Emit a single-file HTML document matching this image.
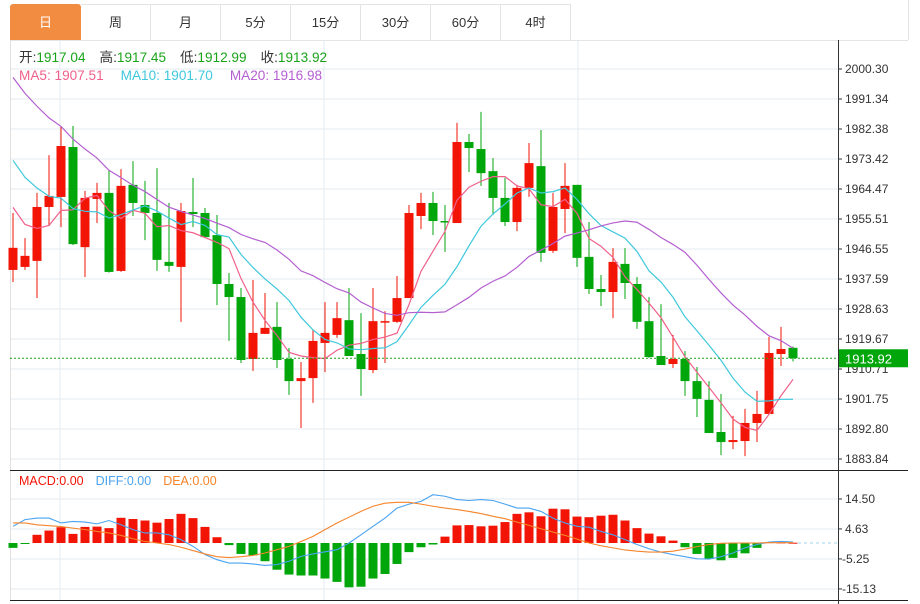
<!DOCTYPE html>
<html><head><meta charset="utf-8">
<style>
html,body{margin:0;padding:0;background:#fff;width:920px;height:604px;overflow:hidden;font-family:"Liberation Sans","Noto Sans CJK SC",sans-serif;}
#tabs{position:absolute;left:10px;top:4px;height:36px;display:flex;}
.tab{width:69px;height:35px;border:1px solid #e3e3e3;border-left:none;line-height:35px;text-align:center;font-size:13px;color:#333;box-sizing:content-box;}
.tab.first{border-left:1px solid #e3e3e3;}
.tab.on{background:#f28c40;color:#fff;border-color:#f28c40;border-radius:3px 3px 0 0;}
svg{position:absolute;left:0;top:0;}
</style></head><body>
<div id="tabs">
<div class="tab first on">日</div>
<div class="tab">周</div>
<div class="tab">月</div>
<div class="tab">5分</div>
<div class="tab">15分</div>
<div class="tab">30分</div>
<div class="tab">60分</div>
<div class="tab">4时</div>
</div>
<svg id="chart" width="920" height="604"></svg>
<script>
const opens=[1940.3,1941.2,1943.0,1959.1,1962.1,1977.0,1947.1,1961.5,1963.3,1940.0,1965.7,1959.7,1957.3,1942.7,1941.2,1957.6,1957.3,1950.7,1936.1,1932.2,1913.7,1921.2,1923.3,1913.7,1907.1,1908.0,1918.5,1920.9,1925.3,1915.2,1910.4,1924.8,1924.8,1931.9,1956.4,1960.3,1954.9,1954.3,1978.5,1976.4,1969.8,1961.8,1954.6,1964.8,1971.3,1946.0,1958.5,1965.7,1944.2,1934.6,1933.7,1942.1,1936.1,1925.0,1914.6,1912.2,1913.7,1907.1,1901.5,1891.9,1888.9,1889.2,1894.6,1897.3,1915.2,1917.04];
const highs=[1957.3,1949.8,1963.3,1974.6,1983.0,1983.3,1963.9,1966.3,1970.1,1970.4,1972.8,1966.9,1970.7,1960.3,1960.3,1967.8,1958.8,1956.7,1939.4,1934.9,1937.3,1933.4,1930.7,1917.0,1912.8,1922.4,1930.7,1930.7,1934.9,1927.4,1934.9,1928.0,1938.5,1959.7,1963.3,1963.6,1959.7,1984.2,1980.9,1987.5,1973.7,1967.8,1965.7,1978.2,1982.1,1963.3,1972.2,1965.7,1954.6,1938.8,1946.8,1946.8,1938.2,1932.2,1930.1,1920.9,1916.1,1911.3,1907.1,1903.3,1896.7,1898.8,1904.2,1920.3,1923.3,1917.45];
const lows=[1936.7,1940.3,1931.9,1953.7,1953.1,1947.7,1938.2,1954.3,1939.5,1939.7,1956.4,1949.2,1940.0,1939.7,1924.8,1953.1,1949.8,1929.8,1919.1,1912.5,1910.1,1921.2,1911.0,1903.0,1893.1,1900.6,1909.8,1920.0,1914.6,1902.7,1909.5,1912.5,1924.5,1931.9,1952.5,1950.7,1945.7,1954.3,1969.5,1965.4,1956.7,1953.4,1951.9,1962.1,1942.7,1945.4,1951.3,1941.2,1933.1,1929.5,1925.9,1931.6,1922.7,1914.0,1911.9,1911.0,1902.7,1896.4,1891.6,1885.0,1886.8,1884.7,1888.9,1897.3,1911.6,1912.99];
const closes=[1946.9,1944.5,1959.1,1962.4,1977.3,1948.0,1961.8,1963.3,1939.7,1965.4,1960.3,1957.3,1943.3,1941.5,1957.9,1957.0,1950.1,1936.1,1932.2,1913.4,1921.5,1923.0,1913.4,1907.1,1908.0,1919.1,1921.5,1925.9,1914.6,1910.7,1925.0,1925.0,1931.9,1957.3,1960.3,1954.9,1954.6,1978.5,1976.7,1969.2,1961.8,1954.6,1964.8,1972.2,1945.4,1959.1,1965.4,1943.9,1934.6,1933.7,1942.7,1936.4,1924.8,1914.3,1911.9,1913.7,1907.1,1901.8,1891.6,1888.9,1889.5,1894.6,1897.3,1915.5,1916.7,1913.92];
const priorCloses=[2040,2036,2032,2028,2024,2021,2017,2013,2009,2006,1995,1991,1987,1983,1979,1970,1965,1958,1955];
const priceTicks=[2000.30,1991.34,1982.38,1973.42,1964.47,1955.51,1946.55,1937.59,1928.63,1919.67,1910.71,1901.75,1892.80,1883.84];
const macdHist=[-1.6,-0.2,2.7,4.1,5.2,3.0,5.3,5.4,4.9,8.3,7.9,7.4,6.7,7.9,9.6,8.2,5.3,1.9,-0.7,-3.6,-4.1,-6.0,-8.8,-10.4,-10.7,-10.7,-11.7,-12.8,-14.6,-14.4,-11.7,-10.2,-6.9,-3.0,-1.4,-0.5,2.1,5.8,5.9,5.5,5.7,6.9,9.6,10.1,8.8,11.3,11.1,8.7,8.5,9.0,9.3,7.4,4.9,3.1,2.2,0.8,-1.4,-3.6,-5.2,-5.7,-4.9,-3.4,-1.6,0.3,0.2,0.1];
const diffVals=[5.5,7.7,8.2,8.2,6.6,7.1,6.9,6.3,7.4,6.0,4.4,3.3,3.3,2.7,1.1,-1.1,-3.8,-5.5,-6.6,-6.6,-6.9,-7.4,-7.1,-6.0,-4.4,-3.6,-2.9,-2.2,0,2.7,5.5,8.2,11.5,12.8,13.7,15.9,15.4,14.3,14.0,14.3,14.0,12.8,11.5,11.5,10.4,8.2,6.6,5.5,5.2,3.8,2.7,1.1,-0.5,-1.9,-3.0,-3.8,-4.5,-5.2,-5.3,-4.5,-3.3,-1.6,-0.5,0.3,0.5,0.3];
const deaVals=[6.6,6.6,6.0,5.7,5.4,4.9,4.4,3.8,3.3,2.5,1.4,0.5,0,-0.5,-1.4,-2.5,-3.6,-4.5,-4.8,-4.5,-4.1,-3.3,-2.2,-1.1,0.5,2.2,4.4,6.6,8.5,10.4,12.1,13.1,13.4,13.4,12.8,12.1,11.5,11.0,10.4,9.7,8.8,8.0,6.9,5.8,4.7,3.6,2.5,1.3,0,-0.9,-1.6,-2.3,-2.7,-3.0,-3.0,-2.7,-2.0,-1.2,-0.5,-0.1,0,0,0,0.1,0.1,0.1];
const macdTicks=[14.50,4.63,-5.25,-15.13];

const NS='http://www.w3.org/2000/svg';
const svg=document.getElementById('chart');
function mk(tag,attrs,parent){const e=document.createElementNS(NS,tag);for(const k in attrs)e.setAttribute(k,attrs[k]);(parent||svg).appendChild(e);return e;}
const L=10,R=838;
const xOf=i=>13+i*12;
const yP=v=>69+(2000.30-v)*390/(2000.30-1883.84);
const yM=v=>543-v*30/9.88;

const grid=mk('g',{});


priceTicks.forEach(t=>{mk('line',{x1:L,x2:R,y1:yP(t),y2:yP(t),stroke:'#e4ebf1','stroke-width':1},grid);});
macdTicks.forEach(t=>{mk('line',{x1:L,x2:R,y1:yM(t),y2:yM(t),stroke:'#e4ebf1','stroke-width':1},grid);});
[60,324,578].forEach(x=>mk('line',{x1:x,x2:x,y1:40,y2:600,stroke:'#e4ebf1'},grid));
mk('line',{x1:L,x2:908,y1:40.5,y2:40.5,stroke:'#e4e4e4'},grid);
mk('line',{x1:L+0.5,x2:L+0.5,y1:40,y2:600,stroke:'#e0e0e0'},grid);
mk('line',{x1:L,x2:908,y1:470.5,y2:470.5,stroke:'#222'},grid);
mk('line',{x1:L,x2:908,y1:600.5,y2:600.5,stroke:'#222'},grid);
mk('line',{x1:R+0.5,x2:R+0.5,y1:40,y2:604,stroke:'#333'},grid);
mk('line',{x1:908.5,x2:908.5,y1:0,y2:40,stroke:'#e4e4e4'},grid);

const ax=mk('g',{'font-size':12,fill:'#333','font-family':'Liberation Sans, sans-serif'});


priceTicks.forEach(t=>{const y=yP(t);mk('line',{x1:R,x2:R+4,y1:y,y2:y,stroke:'#333'},ax);const tx=mk('text',{x:845,y:y+4},ax);tx.textContent=t.toFixed(2);});
const ax2=mk('g',{'font-size':12,fill:'#333'});


macdTicks.forEach(t=>{const y=yM(t);mk('line',{x1:R,x2:R+4,y1:y,y2:y,stroke:'#333'},ax2);const tx=mk('text',{x:t<0?842:845,y:y+4},ax2);tx.textContent=(t<0?'-':'')+Math.abs(t).toFixed(2);});

const cg=mk('g',{});


opens.forEach((o,i)=>{
  const c=closes[i],up=c>=o,col=up?'#f21405':'#00a60a',x=xOf(i);
  const g=mk('g',{},cg);
  
  
  mk('line',{x1:x,x2:x,y1:yP(highs[i]),y2:yP(lows[i]),stroke:col,'stroke-width':1},g);
  const t=yP(Math.max(o,c)),b=yP(Math.min(o,c));
  mk('rect',{x:x-4.5,y:t,width:9,height:Math.max(1.5,b-t),fill:col},g);
});

function ma(n){const all=priorCloses.concat(closes);const off=priorCloses.length;return closes.map((_,i)=>{let s=0;for(let k=0;k<n;k++)s+=all[off+i-k];return s/n;});}
[[5,'#f0608a','ma5-line'],[10,'#3fc8dc','ma10-line'],[20,'#b45fd0','ma20-line']].forEach(([n,col,name])=>{
  const v=ma(n);
  const p=mk('polyline',{points:v.map((m,i)=>xOf(i)+','+yP(m)).join(' '),fill:'none',stroke:col,'stroke-width':1.2});
  
  
});

const lc=closes[closes.length-1];
const lp=mk('line',{x1:L,x2:R,y1:yP(lc),y2:yP(lc),stroke:'#1aa31a','stroke-dasharray':'2,2'});


const lb=mk('g',{});


mk('rect',{x:839,y:yP(lc)-9,width:69,height:18,fill:'#00a60a'},lb);
const lt=mk('text',{x:845,y:yP(lc)+5,fill:'#fff','font-size':13},lb);lt.textContent=lc.toFixed(2);

const mg=mk('g',{});


macdHist.forEach((v,i)=>{
  const y0=yM(0),y1=yM(v);
  const r=mk('rect',{x:xOf(i)-4.5,y:Math.min(y0,y1),width:9,height:Math.max(1,Math.abs(y1-y0)),fill:v>=0?'#f21405':'#00a60a'},mg);
  
  
});
const zl=mk('line',{x1:xOf(macdHist.length-1)+5,x2:R,y1:yM(0),y2:yM(0),stroke:'#9fd3ef','stroke-dasharray':'3,3'});


const dl=mk('polyline',{points:diffVals.map((v,i)=>xOf(i)+','+yM(v)).join(' '),fill:'none',stroke:'#4aa3f0','stroke-width':1.1});


const el=mk('polyline',{points:deaVals.map((v,i)=>xOf(i)+','+yM(v)).join(' '),fill:'none',stroke:'#f5842a','stroke-width':1.1});


</script>
<svg width="920" height="604" style="pointer-events:none">
<text x="19" y="62" font-size="13.6" font-family="Liberation Sans, Noto Sans CJK SC, sans-serif"><tspan fill="#333">开:</tspan><tspan fill="#1aa31a">1917.04</tspan><tspan fill="#333" dx="14">高:</tspan><tspan fill="#1aa31a">1917.45</tspan><tspan fill="#333" dx="14">低:</tspan><tspan fill="#1aa31a">1912.99</tspan><tspan fill="#333" dx="14">收:</tspan><tspan fill="#1aa31a">1913.92</tspan></text>
<text x="19" y="80" font-size="13.6" font-family="Liberation Sans, sans-serif"><tspan fill="#f0608a">MA5:  1907.51</tspan><tspan fill="#3fc8dc" dx="17">MA10:  1901.70</tspan><tspan fill="#b45fd0" dx="17">MA20:  1916.98</tspan></text>
<text x="19" y="485" font-size="12.5" font-family="Liberation Sans, sans-serif"><tspan fill="#f21405">MACD:0.00</tspan><tspan fill="#4aa3f0" dx="12">DIFF:0.00</tspan><tspan fill="#f5842a" dx="12">DEA:0.00</tspan></text>
</svg>
</body></html>
